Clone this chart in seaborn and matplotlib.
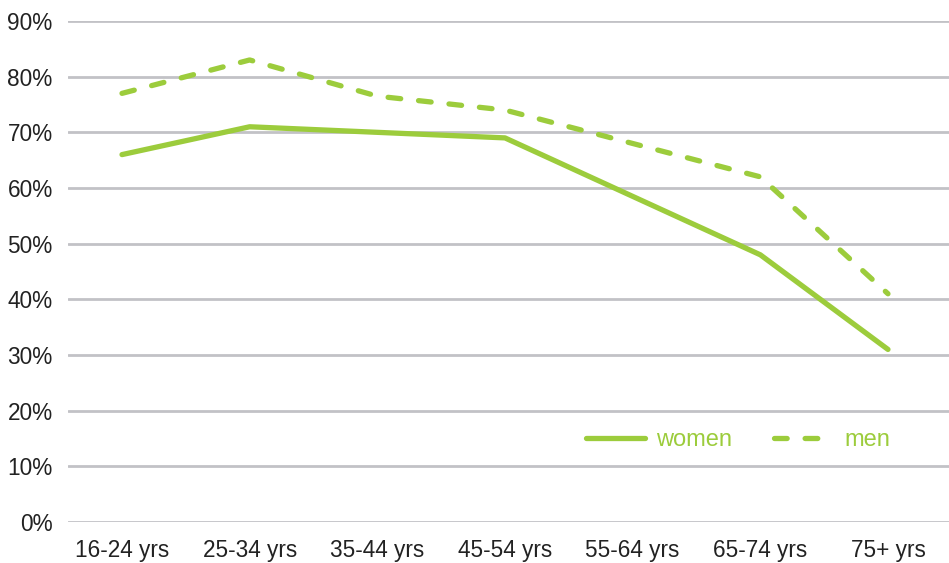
import matplotlib
matplotlib.use("Agg")
import matplotlib.pyplot as plt
import seaborn as sns
import pandas as pd
from matplotlib.lines import Line2D
from matplotlib.ticker import PercentFormatter

age_groups = ["16-24 yrs", "25-34 yrs", "35-44 yrs", "45-54 yrs",
              "55-64 yrs", "65-74 yrs", "75+ yrs"]
women = [0.66, 0.71, 0.70, 0.69, 0.585, 0.48, 0.31]
men = [0.77, 0.83, 0.765, 0.74, 0.68, 0.62, 0.41]
series_names = ["women", "men"]

df = pd.DataFrame({
    "age": age_groups * 2,
    "share": women + men,
    "sex": [series_names[0]] * len(age_groups) + [series_names[1]] * len(age_groups),
})

GREEN = "#9ccc3c"
GRID = "#c2c2c6"
TEXT = "#222222"
DASH = (2.4, 3.4)
LW = 3.8

sns.set_theme(style="white")
plt.rcParams["font.family"] = ["Liberation Sans", "DejaVu Sans"]

fig = plt.figure(figsize=(9.49, 5.63), dpi=100)
ax = fig.add_axes([68 / 949, (563 - 522) / 563, (949 - 68) / 949, (522 - 21) / 563])

sns.lineplot(data=df, x="age", y="share", style="sex",
             dashes={"women": "", "men": DASH},
             color=GREEN, linewidth=LW, sort=False, ax=ax, legend=False)
for ln in ax.lines:
    ln.set_solid_capstyle("round")
    ln.set_dash_capstyle("round")
    ln.set_solid_joinstyle("round")

ax.set_ylim(0, 0.9)
ax.set_xlim(-0.423, 6.478)
ax.set_yticks([i / 10 for i in range(10)])
ax.yaxis.set_major_formatter(PercentFormatter(1.0, decimals=0))
ax.grid(axis="y", color=GRID, linewidth=2)
ax.grid(axis="x", visible=False)
ax.set_axisbelow(True)
for s in ax.spines.values():
    s.set_visible(False)
ax.set_xlabel("")
ax.set_ylabel("")
ax.tick_params(axis="y", labelsize=16.3, colors=TEXT, pad=11, length=0)
ax.tick_params(axis="x", labelsize=16.3, colors=TEXT, pad=12, length=0)

handles = [
    Line2D([], [], color=GREEN, linewidth=LW, solid_capstyle="round"),
    Line2D([], [], color=GREEN, linewidth=LW, dashes=DASH, dash_capstyle="round"),
]
ax.legend(handles, series_names, ncol=2, frameon=False,
          loc="center", bbox_to_anchor=((738 - 68) / 881, (522 - 440) / 501),
          fontsize=17, labelcolor=GREEN, handlelength=2.5,
          handletextpad=0.45, columnspacing=1.8)

fig.savefig("out.png", dpi=100)
